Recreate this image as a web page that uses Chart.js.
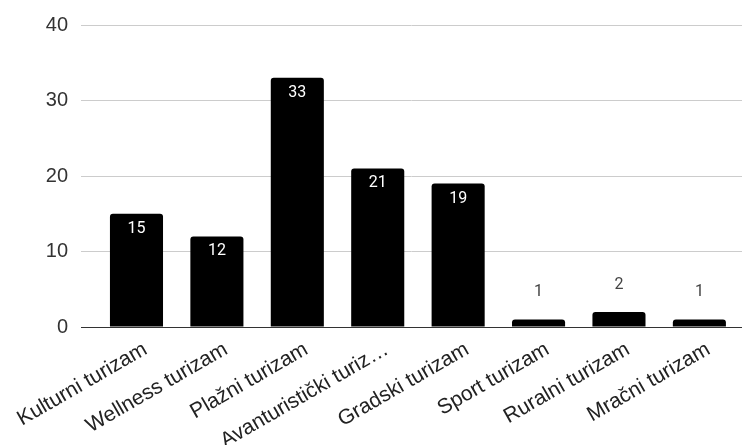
<!DOCTYPE html>
<html>
<head>
<meta charset="utf-8">
<script src="https://cdn.jsdelivr.net/npm/chart.js@4.4.1/dist/chart.umd.min.js"></script>
<style>
  html, body { margin: 0; padding: 0; background: #fff; }
  #wrap { width: 742px; height: 445px; }
</style>
</head>
<body>
<div id="wrap"><canvas id="chart"></canvas></div>
<script>
const categories = ["Kulturni turizam", "Wellness turizam", "Plažni turizam", "Avanturistički turiz…",
  "Gradski turizam", "Sport turizam", "Ruralni turizam", "Mračni turizam"];
const counts = [15, 12, 33, 21, 19, 1, 2, 1];
const yTicks = [0, 10, 20, 30, 40];

// value labels: white inside tall bars, dark above short ones
const valueLabels = {
  id: "valueLabels",
  afterDatasetsDraw(chart) {
    const ctx = chart.ctx;
    const meta = chart.getDatasetMeta(0);
    ctx.save();
    ctx.textAlign = "center";
    ctx.textBaseline = "middle";
    ctx.font = "16px Roboto";
    meta.data.forEach((bar, i) => {
      const v = counts[i];
      if (v >= 5) {
        ctx.fillStyle = "#ffffff";
        ctx.fillText(String(v), bar.x, bar.y + 15);
      } else {
        ctx.fillStyle = "#444444";
        ctx.fillText(String(v), bar.x, bar.y - 27);
      }
    });
    ctx.restore();
  }
};

new Chart(document.getElementById("chart"), {
  type: "bar",
  data: {
    datasets: [{
      data: counts.map((v, i) => ({ x: i, y: v })),
      backgroundColor: "#000000",
      borderRadius: { topLeft: 3, topRight: 3 },
      borderSkipped: "bottom",
      categoryPercentage: 1,
      barPercentage: 0.66
    }]
  },
  options: {
    responsive: true,
    maintainAspectRatio: false,
    animation: false,
    events: [],
    layout: { padding: { top: 25, right: 0, left: 0, bottom: 0 } },
    plugins: {
      legend: { display: false },
      tooltip: { enabled: false }
    },
    scales: {
      x: {
        type: "linear",
        min: -0.69,
        max: 7.53,
        offset: false,
        afterBuildTicks(scale) { scale.ticks = categories.map((c, i) => ({ value: i })); },
        grid: { display: false, drawTicks: false },
        border: { display: true, color: "#333333", width: 1 },
        ticks: {
          color: "#222222",
          font: { family: "Liberation Sans", size: 21 },
          minRotation: 30,
          maxRotation: 30,
          autoSkip: false,
          padding: 10,
          labelOffset: 9,
          callback: (v) => categories[v]
        },
        afterFit(scale) {
          scale.height = 118;
          scale.paddingLeft = 0;
          scale.paddingRight = 0;
        }
      },
      y: {
        min: 0,
        max: 40,
        afterBuildTicks(scale) { scale.ticks = yTicks.map(v => ({ value: v })); },
        grid: { color: "#cccccc", drawTicks: false },
        border: { display: false },
        ticks: {
          color: "#333333",
          font: { family: "Liberation Sans", size: 20 },
          padding: 13
        },
        afterFit(scale) { scale.width = 81; }
      }
    }
  },
  plugins: [valueLabels]
});
</script>
</body>
</html>
